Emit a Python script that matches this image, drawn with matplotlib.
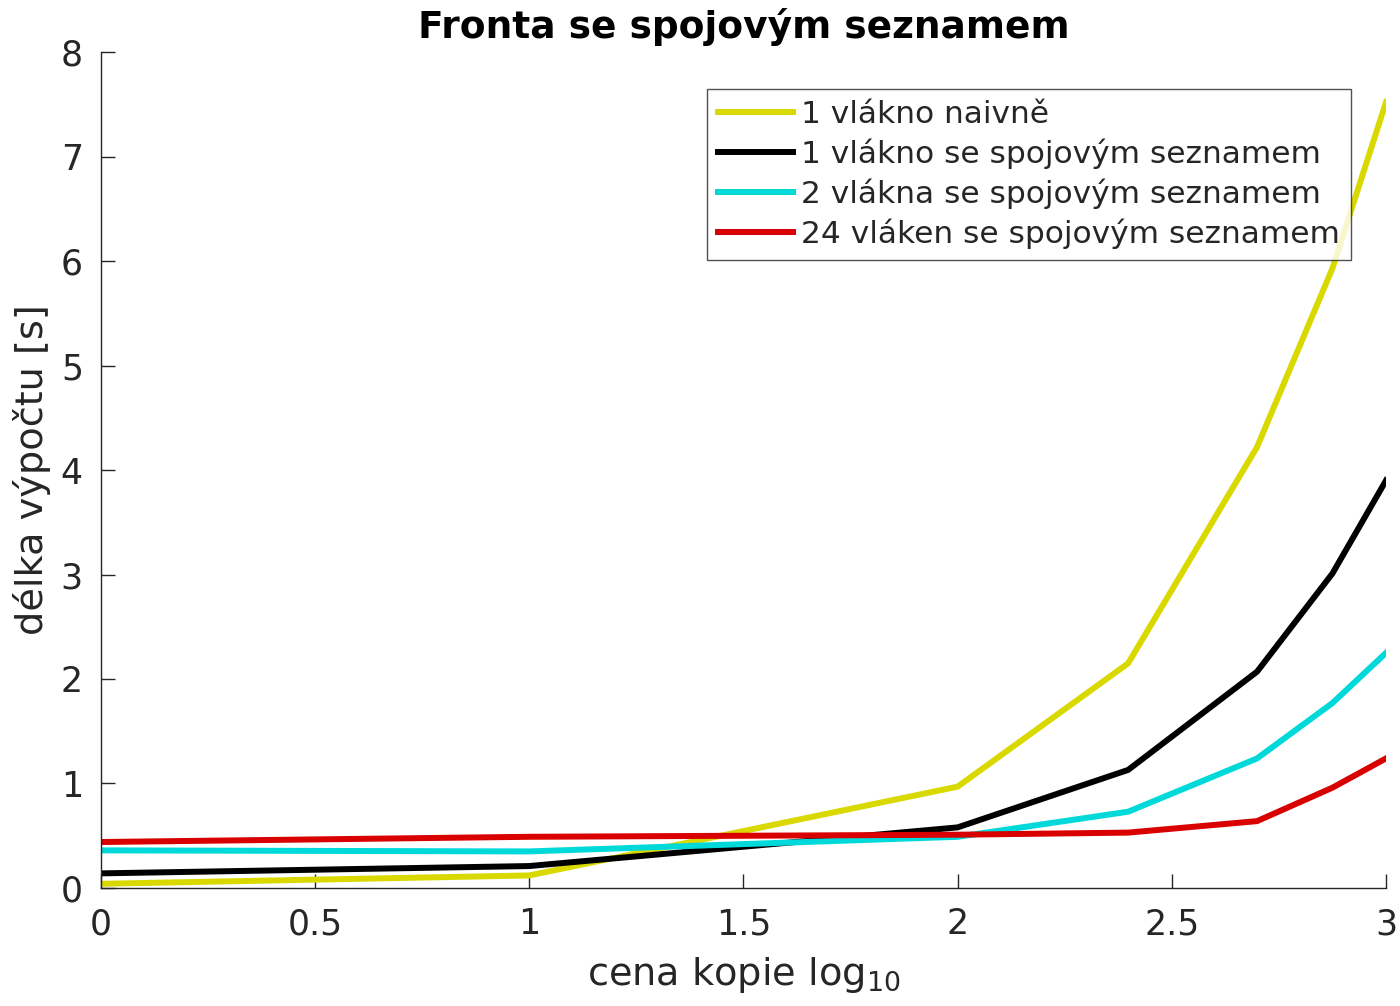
import matplotlib
matplotlib.use("Agg")
import matplotlib.pyplot as plt

# cena kopie (log10) and measured times [s]
x_log = [0, 1, 2, 2.398, 2.699, 2.875, 3]
naive_1 = [0.04, 0.12, 0.97, 2.15, 4.22, 5.93, 7.52]
linked_1 = [0.14, 0.21, 0.58, 1.13, 2.07, 3.01, 3.90]
linked_2 = [0.36, 0.35, 0.49, 0.73, 1.24, 1.77, 2.25]
linked_24 = [0.44, 0.49, 0.51, 0.53, 0.64, 0.96, 1.24]

labels = ["1 vlákno naivně",
          "1 vlákno se spojovým seznamem",
          "2 vlákna se spojovým seznamem",
          "24 vláken se spojovým seznamem"]
colors = [(0.85, 0.85, 0.0), "black", (0.0, 0.85, 0.85), (0.85, 0.0, 0.0)]

xticks = [0, 0.5, 1, 1.5, 2, 2.5, 3]
xticklabels = ["0", "0.5", "1", "1.5", "2", "2.5", "3"]
yticks = list(range(0, 9))

fig = plt.figure(figsize=(14, 10.06), dpi=100)
ax = fig.add_axes([0.0721, 0.1173, 0.9179, 0.831])

for ys, lab, c in zip([naive_1, linked_1, linked_2, linked_24], labels, colors):
    ax.plot(x_log, ys, color=c, lw=4.3, label=lab, solid_joinstyle="miter")

ax.set_xlim(0, 3)
ax.set_ylim(0, 8)
ax.set_xticks(xticks)
ax.set_xticklabels(xticklabels)
ax.set_yticks(yticks)

for side in ["top", "right"]:
    ax.spines[side].set_visible(False)
for side in ["left", "bottom"]:
    ax.spines[side].set_color("#262626")
    ax.spines[side].set_linewidth(1.0)
ax.tick_params(direction="in", length=10, width=1, colors="#262626",
               labelsize=25)
ax.tick_params(axis="x", pad=14)
ax.tick_params(axis="y", pad=13)

ax.set_xlabel("cena kopie log$_{10}$", fontsize=27.5, color="#262626", labelpad=10)
ax.set_ylabel("délka výpočtu [s]", fontsize=27.5, color="#262626", labelpad=7)
ax.set_title("Fronta se spojovým seznamem", fontsize=27, fontweight="bold", pad=10)

leg = ax.legend(loc="upper right", bbox_to_anchor=(0.9728, 0.9557), fontsize=22.5,
                frameon=True, fancybox=False, handlelength=2.4, handletextpad=0.25,
                borderpad=0.35, labelspacing=0.3, borderaxespad=0)
leg.get_frame().set_edgecolor("#262626")
leg.get_frame().set_linewidth(1.0)
for t in leg.get_texts():
    t.set_color("#262626")

fig.savefig("out.png", dpi=100)
